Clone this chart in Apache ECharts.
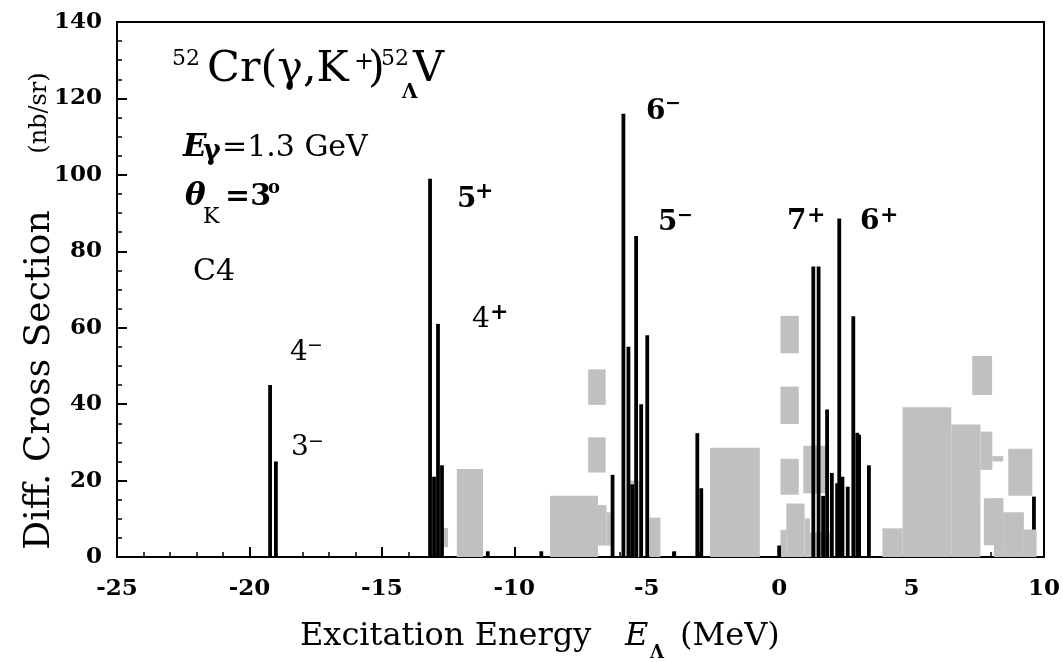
<!DOCTYPE html>
<html><head><meta charset="utf-8">
<script src="https://cdn.jsdelivr.net/npm/echarts@6/dist/echarts.min.js"></script>
<style>html,body{margin:0;padding:0;background:#fff}#c{width:1063px;height:662px}</style>
</head><body><div id="c"></div>
<script>
// ---- data ----
const xTickValues = [-25, -20, -15, -10, -5, 0, 5, 10];
const yTickValues = [0, 20, 40, 60, 80, 100, 120, 140];

// calculated cross sections (black lines): excitation energy (MeV) and value (nb/sr)
const lineEnergies = [-19.22, -19.00, -13.18, -13.03, -12.88, -12.73, -11.00, -8.98,
  -6.29, -5.88, -5.69, -5.55, -5.40, -5.21, -4.98, -3.96, -3.09, -2.94, 0.00,
  1.29, 1.49, 1.66, 1.81, 1.99, 2.19, 2.27, 2.39, 2.59, 2.80, 2.95, 3.02, 3.39, 9.62];
const lineValues = [45, 25, 99, 21, 61, 24, 1.5, 1.5,
  21.5, 116, 55, 19, 84, 40, 58, 1.5, 32.4, 18, 3,
  76, 76, 16, 38.6, 22, 19.3, 88.6, 21, 18.4, 63, 32.5, 32, 24, 15.8];

// grey boxes (drawn under the lines): energy from / to, value low / high
const boxFrom = [-12.73, -12.17, -8.65, -6.84, -6.52, -7.21, -7.21, -5.63, -4.90, -2.61,
  0.05, 0.05, 0.05, 0.05, 0.27, 0.96, 0.91, 1.16, 3.90, 4.66, 6.50, 7.60, 8.05, 7.73, 8.11, 8.46, 7.29, 8.65];
const boxTo = [-12.50, -11.18, -6.84, -6.52, -6.36, -6.55, -6.55, -5.19, -4.48, -0.73,
  0.74, 0.74, 0.74, 0.27, 0.96, 1.16, 1.76, 1.92, 4.66, 6.50, 7.60, 8.05, 8.46, 8.46, 8.46, 9.24, 8.04, 9.56];
const boxLow = [2.6, 0, 0, 3, 3, 39.8, 22.1, 0, 0, 0,
  53.3, 34.8, 16.3, 0, 0, 0, 16.7, 0, 0, 0, 0, 22.8, 25, 3.1, 0, 0, 42.4, 16];
const boxHigh = [7.6, 23, 16, 13.6, 11.7, 49.1, 31.3, 20, 10.3, 28.6,
  63.1, 44.6, 25.7, 7.1, 14, 10.1, 29.1, 6.4, 7.5, 39.2, 34.7, 32.8, 26.4, 15.4, 15.4, 11.7, 52.6, 28.3];

// grey boxes drawn over the lines
const coverFrom = [9.24];
const coverTo = [9.72];
const coverLow = [0];
const coverHigh = [7.2];

// ---- chart ----
const SERIF = 'DejaVu Serif';
const chart = echarts.init(document.getElementById('c'), null, {renderer: 'canvas'});

function boxItem(params, api) {
  const a = api.coord([api.value(0), api.value(3)]);
  const b = api.coord([api.value(1), api.value(2)]);
  return {type: 'rect', shape: {x: a[0], y: a[1], width: b[0] - a[0], height: b[1] - a[1]},
    style: {fill: '#c0c0c0'}};
}
function lineItem(params, api) {
  const top = api.coord([api.value(0), api.value(1)]);
  const base = api.coord([api.value(0), 0]);
  const w = 3.8;
  return {type: 'rect', shape: {x: top[0] - w / 2, y: top[1], width: w, height: base[1] - top[1]},
    style: {fill: '#000'}};
}

function T(text, x, base, size, extra) {
  return {type: 'text', x: x, y: base - 0.35 * size, z: 100,
    style: Object.assign({text: text, fill: '#000', fontFamily: SERIF, fontSize: size,
      verticalAlign: 'middle', align: 'left'}, extra || {})};
}
function S(ch, x, cy, size, extra) {
  return {type: 'text', x: x, y: cy + 0.05 * size, z: 100,
    style: Object.assign({text: ch, fill: '#000', fontFamily: SERIF, fontSize: size,
      verticalAlign: 'middle', align: 'left'}, extra || {})};
}
const B = {fontWeight: 'bold'};
const I = {fontStyle: 'italic'};

const graphics = [
  // reaction title
  T('52', 172, 67, 22),
  T('Cr(γ,K', 207, 85, 43),
  S('+', 354, 62, 24),
  T(')', 368, 85, 43),
  T('52', 381, 67, 22),
  T('Λ', 402, 100, 20, B),
  T('V', 413, 85, 43),
  // kinematics
  T('E', 183, 159, 31, Object.assign({}, I, B)),
  T('γ', 203, 161, 27, B),
  T('=1.3 GeV', 222, 159, 30),
  T('θ', 185, 208, 31, Object.assign({}, I, B)),
  T('K', 203, 225, 22),
  T('=3', 225, 208, 30, B),
  T('o', 268, 195, 18, B),
  T('C4', 193, 283, 30),
  // spin-parity labels
  T('4', 290, 363, 28), S('−', 307, 345, 19),
  T('3', 291, 458, 28), S('−', 308, 441, 19),
  T('5', 457, 210, 28, B), S('+', 475, 191, 22, B),
  T('4', 472, 330, 28), S('+', 490, 312, 22, B),
  T('6', 646, 122, 28, B), S('−', 665, 103, 19, B),
  T('5', 658, 233, 28, B), S('−', 677, 215, 19, B),
  T('7', 787, 232, 28, B), S('+', 807, 215, 22, B),
  T('6', 860, 232, 28, B), S('+', 880, 215, 22, B),
  // axis titles
  T('Excitation Energy', 300, 648, 32),
  T('E', 625, 648, 32, I),
  T('Λ', 650, 660, 18, B),
  T('(MeV)', 680, 648, 32),
  {type: 'text', x: 40, y: 380, rotation: Math.PI / 2, z: 100,
    style: {text: 'Diff. Cross Section', fill: '#000', fontFamily: SERIF, fontSize: 36,
      align: 'center', verticalAlign: 'middle'}},
  {type: 'text', x: 40, y: 113, rotation: Math.PI / 2, z: 100,
    style: {text: '(nb/sr)', fill: '#000', fontFamily: SERIF, fontSize: 24,
      align: 'center', verticalAlign: 'middle'}}
];

const axisCommon = {
  type: 'value',
  axisLine: {show: true, onZero: false, lineStyle: {color: '#000', width: 2}},
  axisTick: {show: true, inside: true, length: 10, lineStyle: {color: '#000', width: 2}},
  minorTick: {show: true, length: 5, lineStyle: {color: '#000', width: 1.5}},
  splitLine: {show: false},
  minorSplitLine: {show: false},
  axisLabel: {color: '#000', fontFamily: SERIF, fontWeight: 'bold', fontSize: 23}
};

chart.setOption({
  animation: false,
  backgroundColor: '#fff',
  grid: {left: 117, right: 18, top: 22, bottom: 105, show: true, borderColor: '#000', borderWidth: 2},
  xAxis: Object.assign({}, axisCommon, {
    min: xTickValues[0], max: xTickValues[xTickValues.length - 1], interval: 5,
    minorTick: Object.assign({}, axisCommon.minorTick, {splitNumber: 5}),
    axisLabel: Object.assign({}, axisCommon.axisLabel, {margin: 21, showMinLabel: true, showMaxLabel: true})
  }),
  yAxis: Object.assign({}, axisCommon, {
    min: yTickValues[0], max: yTickValues[yTickValues.length - 1], interval: 20,
    minorTick: Object.assign({}, axisCommon.minorTick, {splitNumber: 4}),
    axisLabel: Object.assign({}, axisCommon.axisLabel, {margin: 15})
  }),
  series: [
    {type: 'custom', name: 'grey', clip: true, z: 1, renderItem: boxItem,
      encode: {x: [0, 1], y: [2, 3]},
      data: boxFrom.map((v, i) => [v, boxTo[i], boxLow[i], boxHigh[i]])},
    {type: 'custom', name: 'lines', clip: true, z: 2, renderItem: lineItem,
      encode: {x: 0, y: 1},
      data: lineEnergies.map((e, i) => [e, lineValues[i]])},
    {type: 'custom', name: 'cover', clip: true, z: 3, renderItem: boxItem,
      encode: {x: [0, 1], y: [2, 3]},
      data: coverFrom.map((v, i) => [v, coverTo[i], coverLow[i], coverHigh[i]])}
  ],
  graphic: graphics
});
</script></body></html>
